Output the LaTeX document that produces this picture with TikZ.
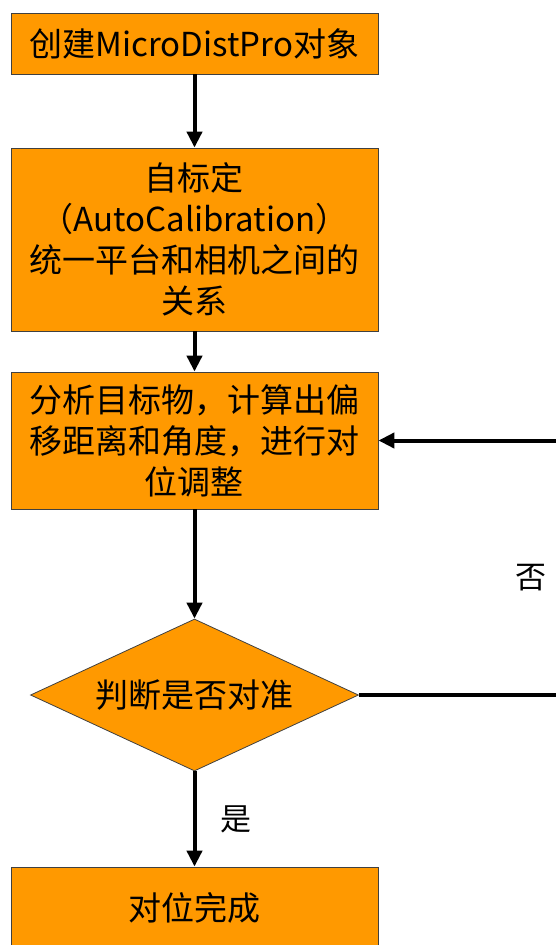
\documentclass[tikz,border=0pt]{standalone}
\usepackage{fontspec}
\setmainfont{Noto Sans CJK SC}
\usetikzlibrary{arrows.meta,shapes.geometric}
\definecolor{boxorange}{HTML}{FF9900}

\begin{document}
\begin{tikzpicture}[x=1pt,y=-1pt,
  stepbox/.style={draw=black!75, fill=boxorange, line width=0.8pt, minimum width=367pt,
    inner sep=2pt, align=center, font=\fontsize{33}{41}\selectfont},
  decide/.style={diamond, draw=black!75, fill=boxorange, line width=0.8pt, aspect=2.16,
    minimum width=328pt, minimum height=152pt, inner sep=0pt, font=\fontsize{33}{41}\selectfont},
  flow/.style={line width=4pt, line join=miter, -{Triangle[length=16pt,width=15pt]}},
  tag/.style={font=\fontsize{31}{36}\selectfont}]
\useasboundingbox (0,0) rectangle (555,945);
% steps
\node[stepbox, minimum height=61pt] (create) at (194.5,43.5) {创建MicroDistPro对象};
\node[stepbox, minimum height=183pt] (calib) at (194.5,239.5)
  {自标定\\（AutoCalibration）\\统一平台和相机之间的\\关系};
\node[stepbox, minimum height=137pt] (adjust) at (194.5,440.5)
  {分析目标物，计算出偏\\移距离和角度，进行对\\位调整};
\node[decide] (judge) at (194.5,695) {判断是否对准};
\node[stepbox, minimum height=82pt] (done) at (194.5,908) {对位完成};
% loop back (runs off the right edge)
\coordinate (backA) at (562,695);
\coordinate (backB) at (562,440.5);
% arrows
\draw[flow] (create) -- (calib);
\draw[flow] (calib) -- (adjust);
\draw[flow] (adjust) -- (judge);
\draw[flow] (judge) -- node[tag, midway, right=21pt] {是} (done);
\draw[flow] (judge.east) -- (backA) -- node[tag, left=10pt, yshift=-10pt] {否} (backB) -- (adjust.east);
\end{tikzpicture}
\end{document}
